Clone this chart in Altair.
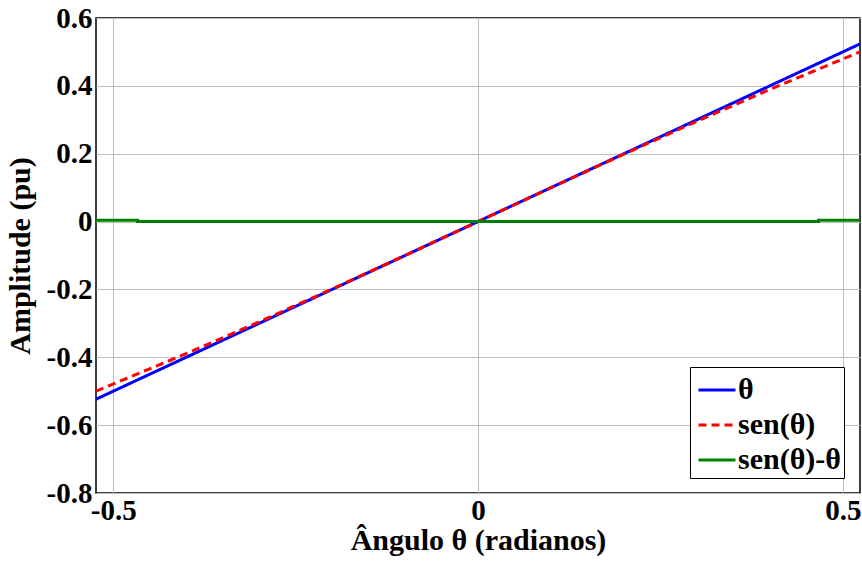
import altair as alt
import pandas as pd

# Ângulo (rad) e amplitudes
theta_x = [-0.5236, -0.4, -0.3, -0.2, -0.1, 0.0, 0.1, 0.2, 0.3, 0.4, 0.5236]
theta_y = [-0.5236, -0.4, -0.3, -0.2, -0.1, 0.0, 0.1, 0.2, 0.3, 0.4, 0.5236]
sen_y = [-0.5, -0.3894, -0.2955, -0.1987, -0.0998, 0.0, 0.0998, 0.1987, 0.2955, 0.3894, 0.5]
dif_x = [-0.5236, -0.4667, -0.4667, 0.4667, 0.4667, 0.5236]
dif_y = [0.004, 0.004, 0.0, 0.0, 0.004, 0.004]

series = ["θ", "sen(θ)", "sen(θ)-θ"]
colors = ["#0000ff", "#ff0000", "#008000"]
dashes = [[1, 0], [8, 5], [1, 0]]

rows = []
for i, (x, y) in enumerate(zip(theta_x, theta_y)):
    rows.append({"x": x, "y": y, "s": series[0], "o": i})
for i, (x, y) in enumerate(zip(theta_x, sen_y)):
    rows.append({"x": x, "y": y, "s": series[1], "o": i})
for i, (x, y) in enumerate(zip(dif_x, dif_y)):
    rows.append({"x": x, "y": y, "s": series[2], "o": i})
df = pd.DataFrame(rows)

FONT = "Liberation Serif"
LABEL = "(datum.value < 0 ? '-' : '') + (datum.value == 0 ? '0' : format(abs(datum.value), '.1f'))"

lines = alt.Chart(df).mark_line(strokeWidth=3, clip=True).encode(
    x=alt.X("x:Q",
            scale=alt.Scale(domain=[-0.5236, 0.5236], nice=False, zero=False),
            axis=alt.Axis(values=[-0.5, 0, 0.5], title="Ângulo θ (radianos)", labelExpr=LABEL)),
    y=alt.Y("y:Q",
            scale=alt.Scale(domain=[-0.8, 0.6], nice=False, zero=False),
            axis=alt.Axis(values=[-0.8, -0.6, -0.4, -0.2, 0, 0.2, 0.4, 0.6],
                          title="Amplitude (pu)", labelExpr=LABEL)),
    color=alt.Color("s:N", scale=alt.Scale(domain=series, range=colors),
                    legend=alt.Legend(title=None)),
    strokeDash=alt.StrokeDash("s:N", scale=alt.Scale(domain=series, range=dashes),
                              legend=alt.Legend(title=None)),
    order="o:Q",
)

chart = lines.properties(
    width=764, height=475,
    autosize=alt.AutoSizeParams(type="none"),
    padding={"left": 96, "top": 18, "right": 2, "bottom": 69},
).configure_view(
    stroke="black", strokeWidth=1.5
).configure_axis(
    labelFont=FONT, labelFontWeight="bold", labelFontSize=29, labelColor="black",
    titleFont=FONT, titleFontWeight="bold", titleFontSize=30, titleColor="black",
    grid=True, gridColor="#bdbdbd", gridWidth=1,
    domain=False, ticks=False, labelPadding=4,
).configure_axisX(
    labelPadding=3, titlePadding=0,
).configure_axisY(
    titlePadding=11,
).configure_legend(
    orient="none", legendX=594, legendY=349,
    fillColor="white", strokeColor="black", strokeWidth=1, padding=3,
    symbolType="stroke", symbolSize=1369, symbolStrokeWidth=3, symbolOffset=4,
    labelFont=FONT, labelFontWeight="bold", labelFontSize=30, labelColor="black",
    rowPadding=-1, labelOffset=1,
)

chart.save("out.html", embed_options={"renderer": "svg", "actions": False})
